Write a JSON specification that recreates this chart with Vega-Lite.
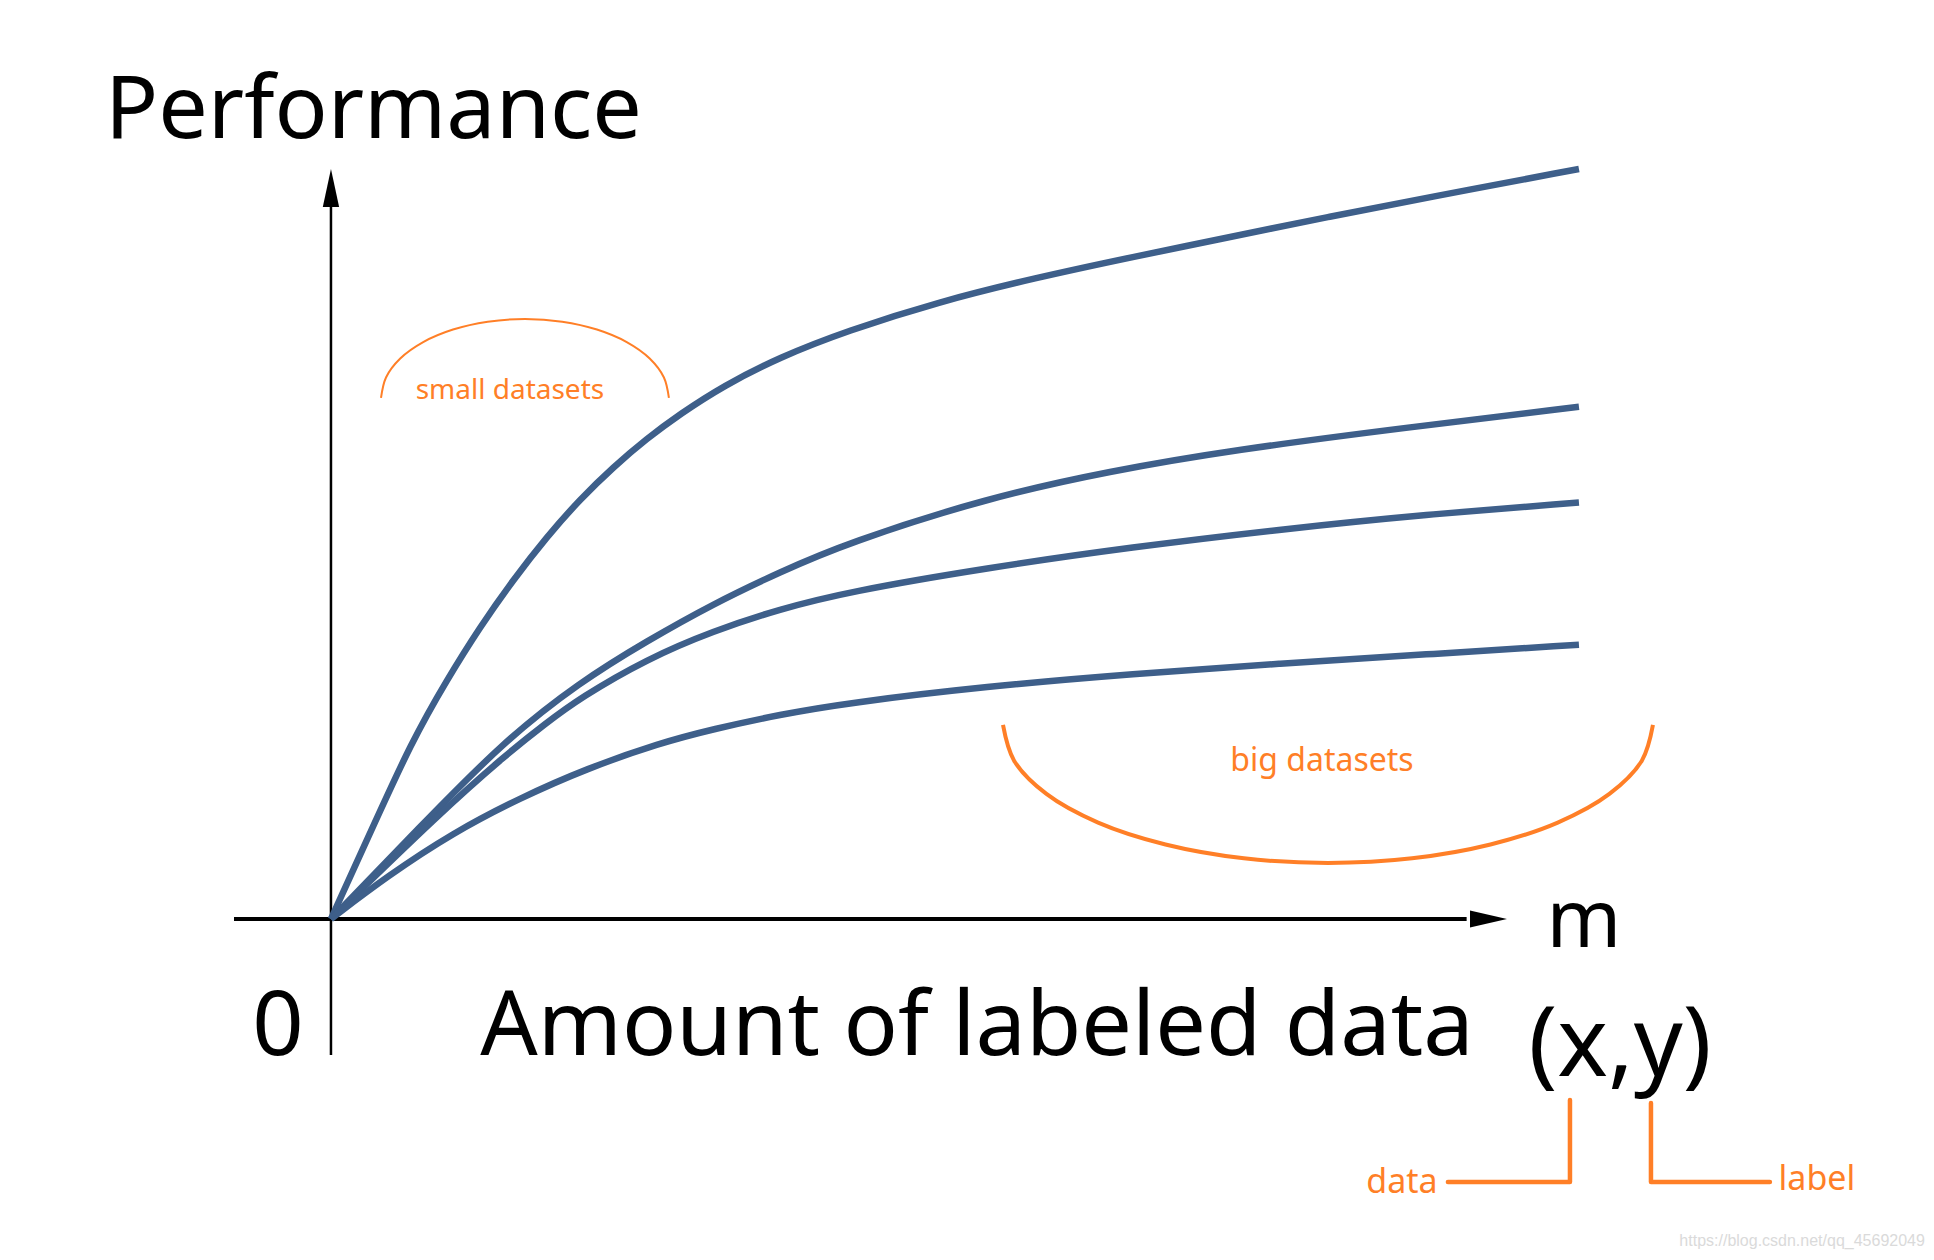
{
  "$schema": "https://vega.github.io/schema/vega-lite/v6.json",
  "width": 1934,
  "height": 1260,
  "autosize": {"type": "fit", "contains": "padding"},
  "padding": 0,
  "background": "white",
  "config": {"view": {"stroke": null}},
  "datasets": {
    "curves": [
      {"s": "c1", "x": 0, "y": 0}, {"s": "c1", "x": 3.13, "y": 11.44}, {"s": "c1", "x": 6.47, "y": 23.67}, {"s": "c1", "x": 9.27, "y": 31.83}, {"s": "c1", "x": 11.94, "y": 38.93}, {"s": "c1", "x": 14.61, "y": 45.24}, {"s": "c1", "x": 17.28, "y": 50.93}, {"s": "c1", "x": 19.95, "y": 55.95}, {"s": "c1", "x": 22.62, "y": 60.25}, {"s": "c1", "x": 25.3, "y": 64.04}, {"s": "c1", "x": 27.96, "y": 67.31}, {"s": "c1", "x": 31.43, "y": 71.07}, {"s": "c1", "x": 35.98, "y": 74.93}, {"s": "c1", "x": 41.32, "y": 78.4}, {"s": "c1", "x": 48.64, "y": 82.27}, {"s": "c1", "x": 56.41, "y": 85.47}, {"s": "c1", "x": 64.26, "y": 88.27}, {"s": "c1", "x": 72.04, "y": 90.93}, {"s": "c1", "x": 79.89, "y": 93.6}, {"s": "c1", "x": 87.66, "y": 96.13}, {"s": "c1", "x": 100, "y": 100},
      {"s": "c2", "x": 0, "y": 0}, {"s": "c2", "x": 7.13, "y": 12.27}, {"s": "c2", "x": 13.78, "y": 23.6}, {"s": "c2", "x": 19.95, "y": 31.6}, {"s": "c2", "x": 25.32, "y": 37.07}, {"s": "c2", "x": 30.61, "y": 42.0}, {"s": "c2", "x": 35.98, "y": 46.27}, {"s": "c2", "x": 41.35, "y": 50.13}, {"s": "c2", "x": 52.56, "y": 56.13}, {"s": "c2", "x": 62.42, "y": 59.73}, {"s": "c2", "x": 72.28, "y": 62.53}, {"s": "c2", "x": 86.14, "y": 65.52}, {"s": "c2", "x": 100, "y": 68.29},
      {"s": "c3", "x": 0, "y": 0}, {"s": "c3", "x": 8.73, "y": 14.13}, {"s": "c3", "x": 14.1, "y": 22.0}, {"s": "c3", "x": 17.15, "y": 26.0}, {"s": "c3", "x": 19.95, "y": 29.47}, {"s": "c3", "x": 25.32, "y": 34.67}, {"s": "c3", "x": 30.61, "y": 38.4}, {"s": "c3", "x": 35.98, "y": 41.33}, {"s": "c3", "x": 41.35, "y": 43.6}, {"s": "c3", "x": 52.48, "y": 46.8}, {"s": "c3", "x": 64.26, "y": 49.6}, {"s": "c3", "x": 75.96, "y": 51.93}, {"s": "c3", "x": 87.66, "y": 53.93}, {"s": "c3", "x": 100, "y": 55.52},
      {"s": "c4", "x": 0, "y": 0}, {"s": "c4", "x": 4.49, "y": 5.68}, {"s": "c4", "x": 9.78, "y": 11.49}, {"s": "c4", "x": 15.14, "y": 16.13}, {"s": "c4", "x": 20.51, "y": 20.07}, {"s": "c4", "x": 26.36, "y": 23.47}, {"s": "c4", "x": 30.61, "y": 25.31}, {"s": "c4", "x": 35.98, "y": 27.27}, {"s": "c4", "x": 41.35, "y": 28.79}, {"s": "c4", "x": 52.48, "y": 31.01}, {"s": "c4", "x": 64.26, "y": 32.68}, {"s": "c4", "x": 75.96, "y": 34.04}, {"s": "c4", "x": 87.66, "y": 35.27}, {"s": "c4", "x": 100, "y": 36.57}
    ],
    "smallArc": [
      {"x": 4.01, "y": 69.47}, {"x": 4.41, "y": 72.2}, {"x": 5.55, "y": 74.73}, {"x": 7.39, "y": 76.92}, {"x": 9.78, "y": 78.59}, {"x": 12.56, "y": 79.64}, {"x": 15.54, "y": 80.0}, {"x": 18.53, "y": 79.64}, {"x": 21.31, "y": 78.59}, {"x": 23.7, "y": 76.92}, {"x": 25.54, "y": 74.73}, {"x": 26.68, "y": 72.2}, {"x": 27.08, "y": 69.47}
    ],
    "bigArc": [
      {"x": 53.85, "y": 25.87}, {"x": 54.74, "y": 21.11}, {"x": 57.33, "y": 16.67}, {"x": 61.47, "y": 12.85}, {"x": 66.87, "y": 9.93}, {"x": 73.15, "y": 8.09}, {"x": 79.89, "y": 7.47}, {"x": 86.63, "y": 8.09}, {"x": 92.91, "y": 9.93}, {"x": 98.3, "y": 12.85}, {"x": 102.44, "y": 16.67}, {"x": 105.04, "y": 21.11}, {"x": 105.93, "y": 25.87}
    ],
    "brackets": [
      {"b": "data", "o": 1, "x": 99.28, "y": -24.13}, {"b": "data", "o": 2, "x": 99.28, "y": -35.07}, {"b": "data", "o": 3, "x": 89.5, "y": -35.07},
      {"b": "label", "o": 1, "x": 105.77, "y": -24.53}, {"b": "label", "o": 2, "x": 105.77, "y": -35.07}, {"b": "label", "o": 3, "x": 115.3, "y": -35.07}
    ]
  },
  "encoding": {
    "x": {"field": "x", "type": "quantitative", "scale": {"domain": [-26.52, 128.45], "nice": false, "zero": false}, "axis": null},
    "y": {"field": "y", "type": "quantitative", "scale": {"domain": [-45.47, 122.53], "nice": false, "zero": false}, "axis": null}
  },
  "layer": [
    {
      "data": {"values": [{"x": -7.77, "y": 0, "x2": 91, "y2": 0}]},
      "mark": {"type": "rule", "color": "#000000", "strokeWidth": 4},
      "encoding": {"x2": {"field": "x2"}, "y2": {"field": "y2"}}
    },
    {
      "data": {"values": [{"x": 0, "y": -18.13, "x2": 0, "y2": 96}]},
      "mark": {"type": "rule", "color": "#000000", "strokeWidth": 2.5},
      "encoding": {"x2": {"field": "x2"}, "y2": {"field": "y2"}}
    },
    {
      "data": {"values": [{"x": 0, "y": 97.47}]},
      "mark": {"type": "point", "shape": "M -0.43 1 L 0 -1 L 0.43 1 Z", "size": 1444, "filled": true, "color": "#000000", "opacity": 1, "strokeWidth": 0}
    },
    {
      "data": {"values": [{"x": 92.75, "y": 0}]},
      "mark": {"type": "point", "shape": "M -1 -0.46 L 1 0 L -1 0.46 Z", "size": 1369, "filled": true, "color": "#000000", "opacity": 1, "strokeWidth": 0}
    },
    {
      "data": {"name": "curves"},
      "mark": {"type": "line", "color": "#3E5F8A", "strokeWidth": 6.5, "interpolate": "basis"},
      "encoding": {"detail": {"field": "s"}}
    },
    {
      "data": {"name": "smallArc"},
      "mark": {"type": "line", "color": "#FF7F27", "strokeWidth": 2, "interpolate": "catmull-rom"},
      "encoding": {}
    },
    {
      "data": {"name": "bigArc"},
      "mark": {"type": "line", "color": "#FF7F27", "strokeWidth": 4, "interpolate": "catmull-rom"},
      "encoding": {}
    },
    {
      "data": {"name": "brackets"},
      "mark": {"type": "line", "color": "#FF7F27", "strokeWidth": 4.5, "strokeCap": "round", "strokeJoin": "round"},
      "encoding": {"detail": {"field": "b"}, "order": {"field": "o"}}
    },
    {
      "data": {"values": [{"x": -18.11, "y": 104.13, "t": "Performance"}]},
      "mark": {"type": "text", "font": "Noto Sans", "fontSize": 88, "align": "left", "baseline": "alphabetic", "color": "#000000"},
      "encoding": {"text": {"field": "t"}}
    },
    {
      "data": {"values": [{"x": 51.76, "y": -18.13, "t": "Amount of labeled data"}, {"x": -4.25, "y": -18.13, "t": "0"}]},
      "mark": {"type": "text", "font": "Noto Sans", "fontSize": 90, "align": "center", "baseline": "alphabetic", "color": "#000000"},
      "encoding": {"text": {"field": "t"}}
    },
    {
      "data": {"values": [{"x": 100.4, "y": -3.73, "t": "m"}]},
      "mark": {"type": "text", "font": "Noto Sans", "fontSize": 80, "align": "center", "baseline": "alphabetic", "color": "#000000"},
      "encoding": {"text": {"field": "t"}}
    },
    {
      "data": {"values": [{"x": 103.29, "y": -21.0, "t": "(x,y)"}]},
      "mark": {"type": "text", "font": "Noto Sans", "fontSize": 96, "align": "center", "baseline": "alphabetic", "color": "#000000"},
      "encoding": {"text": {"field": "t"}}
    },
    {
      "data": {"values": [{"x": 14.34, "y": 69.33, "t": "small datasets"}]},
      "mark": {"type": "text", "font": "Noto Sans", "fontSize": 28, "align": "center", "baseline": "alphabetic", "color": "#FF7F27"},
      "encoding": {"text": {"field": "t"}}
    },
    {
      "data": {"values": [{"x": 79.41, "y": 19.73, "t": "big datasets"}]},
      "mark": {"type": "text", "font": "Noto Sans", "fontSize": 32, "align": "center", "baseline": "alphabetic", "color": "#FF7F27"},
      "encoding": {"text": {"field": "t"}}
    },
    {
      "data": {"values": [{"x": 85.82, "y": -36.53, "t": "data"}, {"x": 119.07, "y": -36.13, "t": "label"}]},
      "mark": {"type": "text", "font": "Noto Sans", "fontSize": 34, "align": "center", "baseline": "alphabetic", "color": "#FF7F27"},
      "encoding": {"text": {"field": "t"}}
    },
    {
      "data": {"values": [{"x": 127.72, "y": -43.6, "t": "https://blog.csdn.net/qq_45692049"}]},
      "mark": {"type": "text", "font": "Liberation Sans", "fontSize": 16, "align": "right", "baseline": "alphabetic", "color": "#DADADA"},
      "encoding": {"text": {"field": "t"}}
    }
  ]
}
